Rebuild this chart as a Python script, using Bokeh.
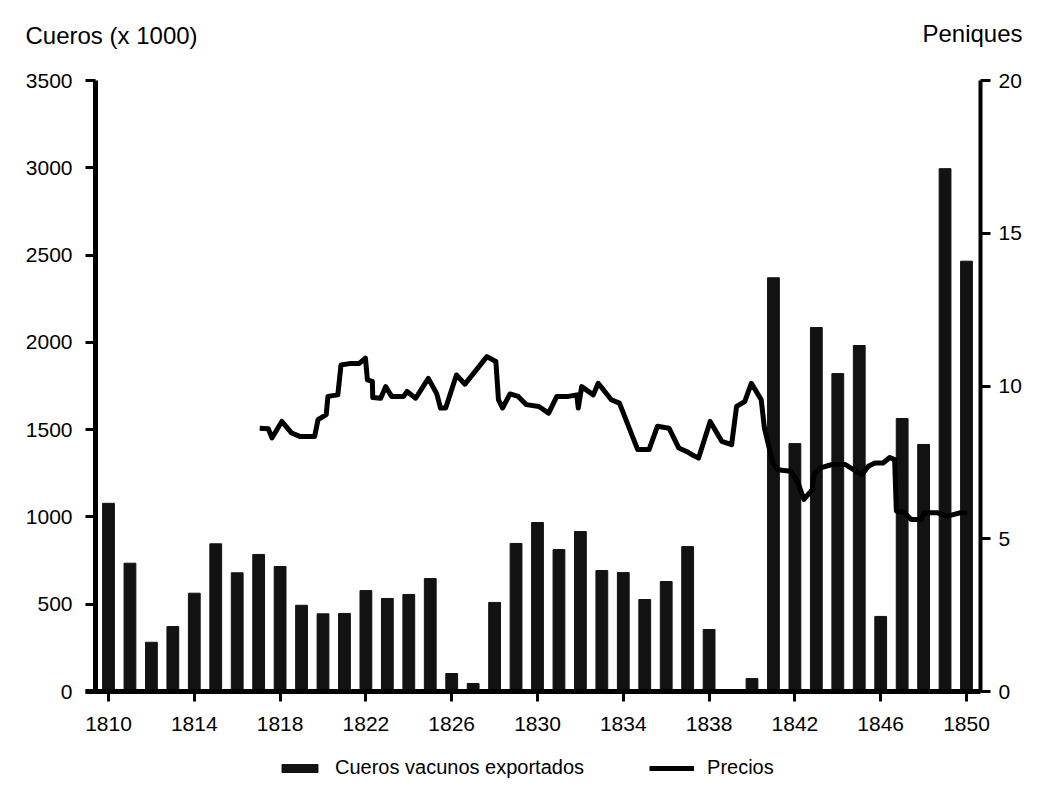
from bokeh.plotting import figure
from bokeh.models import LinearAxis, Range1d, FixedTicker, Label, Legend, LegendItem
from bokeh.embed import file_html
from bokeh.resources import INLINE

# ---------------- data ----------------
years = list(range(1810, 1851))
hides = [1078, 735, 282, 372, 563, 846, 680, 785, 716, 494,
         445, 447, 578, 533, 556, 647, 103, 46, 510, 848,
         968, 813, 916, 693, 681, 527, 630, 830, 355, 0,
         74, 2370, 1420, 2085, 1821, 1982, 430, 1564, 1415, 2995,
         2465]

price_t = [1817.05, 1817.45, 1817.62, 1818.08, 1818.54, 1818.92, 1819.61, 1819.77,
           1820.15, 1820.23, 1820.69, 1820.84, 1821.30, 1821.69, 1821.98, 1822.07,
           1822.30, 1822.32, 1822.69, 1822.92, 1823.20, 1823.76, 1823.92, 1824.32,
           1824.91, 1825.30, 1825.48, 1825.72, 1826.22, 1826.62, 1827.64, 1828.06,
           1828.18, 1828.37, 1828.72, 1829.10, 1829.48, 1830.06, 1830.52, 1830.90,
           1831.44, 1831.83, 1831.90, 1832.06, 1832.60, 1832.83, 1833.44, 1833.82,
           1834.67, 1835.20, 1835.59, 1836.13, 1836.59, 1836.97, 1837.20, 1837.51,
           1838.05, 1838.59, 1839.05, 1839.28, 1839.66, 1839.97, 1840.43, 1840.58,
           1840.97, 1841.20, 1841.81, 1842.12, 1842.42, 1842.81, 1842.89, 1843.19,
           1843.73, 1844.35, 1844.73, 1845.12, 1845.42, 1845.73, 1846.11, 1846.42,
           1846.65, 1846.73, 1847.11, 1847.42, 1847.88, 1848.03, 1848.65, 1849.11,
           1849.42, 1849.72, 1850.03]
price_v = [8.62, 8.60, 8.30, 8.84, 8.46, 8.35, 8.35, 8.90,
           9.06, 9.66, 9.71, 10.69, 10.74, 10.74, 10.91, 10.20,
           10.15, 9.62, 9.60, 9.98, 9.66, 9.66, 9.82, 9.60,
           10.25, 9.75, 9.28, 9.28, 10.36, 10.06, 10.96, 10.80,
           9.55, 9.28, 9.74, 9.66, 9.39, 9.33, 9.11, 9.66,
           9.66, 9.71, 9.28, 9.98, 9.71, 10.09, 9.55, 9.44,
           7.92, 7.92, 8.68, 8.62, 7.97, 7.85, 7.75, 7.64,
           8.84, 8.19, 8.08, 9.33, 9.49, 10.09, 9.55, 8.62,
           7.48, 7.26, 7.21, 6.88, 6.29, 6.61, 7.10, 7.32,
           7.43, 7.43, 7.26, 7.10, 7.37, 7.48, 7.48, 7.66,
           7.59, 5.91, 5.85, 5.63, 5.63, 5.85, 5.85, 5.74,
           5.80, 5.85, 5.85]

x_ticks = list(range(1810, 1851, 4))
left_ticks = [0, 500, 1000, 1500, 2000, 2500, 3000, 3500]
right_ticks = [0, 5, 10, 15, 20]

left_title = "Cueros (x 1000)"
right_title = "Peniques"
bar_label = "Cueros vacunos exportados"
line_label = "Precios"

# ---------------- layout (pixel geometry of the canvas) ----------------
W, H = 1025, 780
FONT = "Liberation Sans"
PX_1810, PX_PER_YEAR = 108.0, 21.45          # x pixel of 1810, pixels per year
PX_ZERO, PX_TOP = 691.0, 80.0                # y pixel of value 0 and of 3500
AX_L_PX, AX_R_PX, AX_X_START_PX = 95.0, 980.0, 85.0
LEFT_MAX, RIGHT_MAX = 3500.0, 20.0

ppu = (PX_ZERO - PX_TOP) / LEFT_MAX          # pixels per hide unit
x_start = 1810 - PX_1810 / PX_PER_YEAR
x_end = x_start + W / PX_PER_YEAR
y_start = -(H - PX_ZERO) / ppu
y_end = LEFT_MAX + PX_TOP / ppu
ratio = LEFT_MAX / RIGHT_MAX
x_left_axis = 1810 + (AX_L_PX - PX_1810) / PX_PER_YEAR
x_right_axis = 1810 + (AX_R_PX - PX_1810) / PX_PER_YEAR
x_axis_start = 1810 + (AX_X_START_PX - PX_1810) / PX_PER_YEAR

p = figure(width=W, height=H, x_range=Range1d(x_start, x_end), y_range=Range1d(y_start, y_end),
           output_backend="svg", toolbar_location=None, min_border=0)
p.extra_y_ranges = {"price": Range1d(y_start / ratio, y_end / ratio)}
p.title.visible = False
p.outline_line_color = None
p.xgrid.visible = False
p.ygrid.visible = False
p.background_fill_color = "white"
p.border_fill_color = "white"

bars = p.vbar(x=years, top=hides, width=0.55, bottom=0, fill_color="#121212", line_color="#121212")
line = p.line(price_t, price_v, y_range_name="price", line_width=5, line_color="black",
              line_join="round")

# axes (fixed at their positions so that the whole canvas is the frame)
xa = p.xaxis[0]
xa.ticker = FixedTicker(ticks=x_ticks)
xa.fixed_location = 0
xa.bounds = (x_axis_start, x_right_axis)
ya = p.yaxis[0]
ya.ticker = FixedTicker(ticks=left_ticks)
ya.fixed_location = x_left_axis
ya.bounds = (0, LEFT_MAX)
ra = LinearAxis(y_range_name="price", ticker=FixedTicker(ticks=right_ticks))
ra.fixed_location = x_right_axis
ra.bounds = (0, RIGHT_MAX)
p.add_layout(ra, "right")

for ax, lw in ((xa, 5), (ya, 5), (ra, 4)):
    ax.axis_line_width = lw
    ax.axis_line_color = "black"
    ax.major_tick_line_width = 3
    ax.major_tick_line_color = "black"
    ax.major_tick_in = 0
    ax.major_tick_out = 10
    ax.minor_tick_line_color = None
    ax.major_label_text_font = FONT
    ax.major_label_text_font_size = "21px"
    ax.major_label_text_color = "black"
xa.major_label_standoff = 15
ya.major_label_standoff = 13
ra.major_label_standoff = 8

# axis titles
p.add_layout(Label(x=25, y=H - 35, x_units="screen", y_units="screen", text=left_title,
                   text_font=FONT, text_font_size="24px", text_color="black",
                   text_align="left", text_baseline="alphabetic"))
p.add_layout(Label(x=W - 3, y=H - 33, x_units="screen", y_units="screen", text=right_title,
                   text_font=FONT, text_font_size="24px", text_color="black",
                   text_align="right", text_baseline="alphabetic"))

# legend
legend = Legend(items=[LegendItem(label=bar_label, renderers=[bars]),
                       LegendItem(label=line_label, renderers=[line])],
                orientation="horizontal", location=(277, 1),
                glyph_width=45, glyph_height=10, label_standoff=13, spacing=65,
                padding=0, margin=0, border_line_color=None, background_fill_alpha=0,
                label_text_font=FONT, label_text_font_size="20px", label_text_color="black")
p.add_layout(legend, "center")

open("out.html", "w").write(file_html(p, INLINE))
